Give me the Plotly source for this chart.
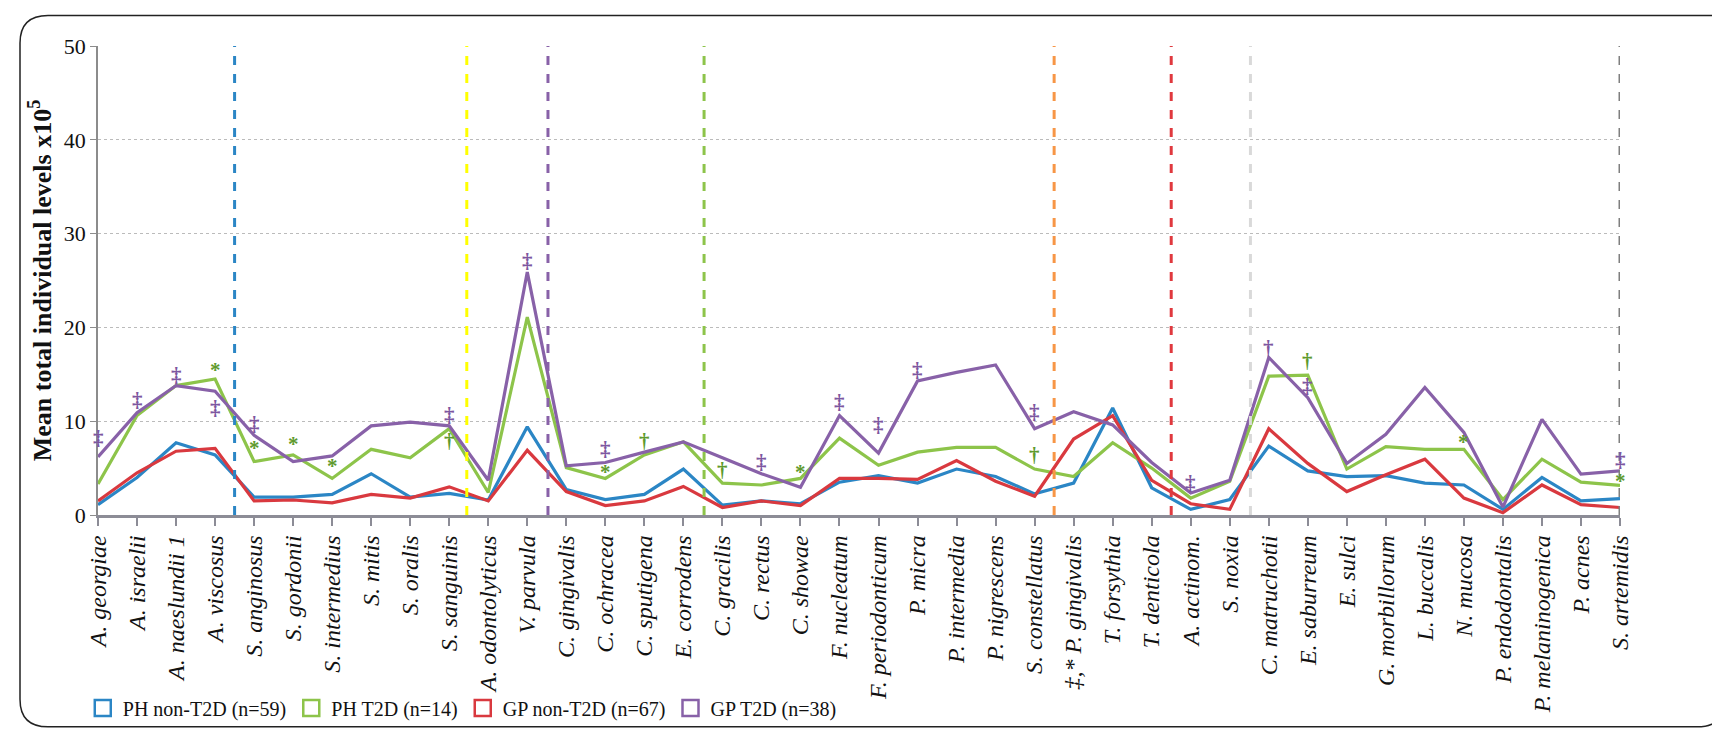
import plotly.graph_objects as go

categories = ["A. georgiae", "A. israelii", "A. naeslundii 1", "A. viscosus", "S. anginosus",
              "S. gordonii", "S. intermedius", "S. mitis", "S. oralis", "S. sanguinis",
              "A. odontolyticus", "V. parvula", "C. gingivalis", "C. ochracea", "C. sputigena",
              "E. corrodens", "C. gracilis", "C. rectus", "C. showae", "F. nucleatum",
              "F. periodonticum", "P. micra", "P. intermedia", "P. nigrescens", "S. constellatus",
              "‡,* P. gingivalis", "T. forsythia", "T. denticola", "A. actinom.", "S. noxia",
              "C. matruchotii", "E. saburreum", "E. sulci", "G. morbillorum", "L. buccalis",
              "N. mucosa", "P. endodontalis", "P. melaninogenica", "P. acnes", "S. artemidis"]

ph_non_t2d = [1.1, 4.0, 7.7, 6.4, 1.9, 1.9, 2.2, 4.4, 1.9, 2.3,
              1.6, 9.4, 2.7, 1.65, 2.2, 4.9, 1.05, 1.5, 1.2, 3.5,
              4.2, 3.4, 4.9, 4.1, 2.25, 3.4, 11.4, 2.9, 0.6, 1.65,
              7.35, 4.7, 4.1, 4.2, 3.4, 3.2, 0.6, 4.0, 1.5, 1.75]
ph_t2d = [3.3, 10.6, 13.8, 14.5, 5.7, 6.4, 3.9, 7.0, 6.1, 9.2,
          2.4, 21.1, 5.05, 3.9, 6.4, 7.8, 3.4, 3.2, 3.9, 8.2,
          5.3, 6.7, 7.2, 7.2, 4.9, 4.1, 7.7, 5.0, 1.8, 3.6,
          14.8, 14.9, 4.9, 7.3, 7.0, 7.0, 1.65, 5.95, 3.5, 3.15]
gp_non_t2d = [1.5, 4.5, 6.8, 7.1, 1.5, 1.6, 1.3, 2.2, 1.8, 3.0,
              1.5, 6.9, 2.5, 1.0, 1.5, 3.05, 0.8, 1.5, 1.0, 3.9,
              3.9, 3.8, 5.8, 3.6, 2.0, 8.1, 10.6, 3.7, 1.2, 0.6,
              9.2, 5.5, 2.5, 4.3, 5.95, 1.8, 0.25, 3.2, 1.1, 0.8]
gp_t2d = [6.2, 10.9, 13.8, 13.2, 8.5, 5.7, 6.3, 9.5, 9.9, 9.5,
          3.7, 25.9, 5.25, 5.6, 6.7, 7.8, 6.1, 4.4, 2.95, 10.6,
          6.6, 14.3, 15.2, 16.0, 9.2, 11.0, 9.6, 5.6, 2.35, 3.7,
          16.8, 12.5, 5.5, 8.6, 13.6, 8.8, 0.85, 10.2, 4.35, 4.7]

series_names = ["PH non-T2D (n=59)", "PH T2D (n=14)", "GP non-T2D (n=67)", "GP T2D (n=38)"]
series_values = [ph_non_t2d, ph_t2d, gp_non_t2d, gp_t2d]
series_colors = ["#2B86C5", "#8DC44A", "#D9393F", "#8861A8"]

# significance marks: category index, y value, symbol, group (1 = PH T2D, 3 = GP T2D)
sig_cat = [0, 1, 2, 3, 3, 4, 4, 5, 6, 9, 9, 11, 13, 13, 14, 16, 17, 18, 19, 20,
           21, 24, 24, 28, 30, 31, 31, 35, 39, 39]
sig_y = [8.2, 12.3, 14.9, 15.5, 11.4, 9.7, 7.1, 7.6, 5.2, 10.7, 7.9, 27.1, 7.0, 4.6, 7.9,
         4.8, 5.7, 4.6, 12.0, 9.6, 15.5, 11.0, 6.4, 3.4, 17.8, 16.4, 13.7, 7.8, 5.9, 3.6]
sig_txt = ["‡", "‡", "‡", "*", "‡", "‡", "*", "*", "*", "‡", "†", "‡", "‡", "*", "†",
           "†", "‡", "*", "‡", "‡", "‡", "‡", "†", "‡", "†", "†", "‡", "*", "‡", "*"]
sig_grp = [3, 3, 3, 1, 3, 3, 1, 1, 1, 3, 1, 3, 3, 1, 1, 1, 3, 1, 3, 3,
           3, 3, 1, 3, 3, 1, 3, 1, 3, 1]
sig_colors = {1: "#5E9A2E", 3: "#7D56A0"}

divider_pos = [3.5, 9.45, 11.53, 15.53, 24.5, 27.5, 29.53, 39.0]
divider_colors = ["#2B86C5", "#FFFF00", "#8861A8", "#8DC44A", "#F79646", "#E0393E", "#D9D9D9", "#7F7F7F"]

SERIF = "Liberation Serif, DejaVu Serif, serif"
W, H = 1720, 732
L, R, T, B = 90, 108, 38, 218
PW, PH = W - L - R, H - T - B

fig = go.Figure()
for name, vals, col in zip(series_names, series_values, series_colors):
    fig.add_trace(go.Scatter(x=categories, y=vals, mode="lines", name=name,
                             line=dict(color=col, width=3.2), showlegend=False))
# legend entries as open squares
for name, col in zip(series_names, series_colors):
    fig.add_trace(go.Scatter(x=[None], y=[None], mode="markers", name=name,
                             marker=dict(symbol="square-open", size=16, color=col,
                                         line=dict(width=2.5, color=col))))

shapes = []
for xp, col in zip(divider_pos, divider_colors):
    shapes.append(dict(type="line", xref="x", yref="y", x0=xp, x1=xp, y0=0, y1=50,
                       line=dict(color=col, width=3, dash="dash"), layer="above"))

# rounded frame around whole figure (in paper coordinates)
def px(xpix):
    return (xpix - L) / PW
def py(ypix):
    return (H - B - ypix) / PH
x0, x1, y0, y1, r = 12, 1717, 7, 729, 28
path = (f"M {px(x0 + r)},{py(y0)} L {px(x1)},{py(y0)} L {px(x1)},{py(y1 - r)} "
        f"Q {px(x1)},{py(y1)} {px(x1 - r)},{py(y1)} L {px(x0 + r)},{py(y1)} "
        f"Q {px(x0)},{py(y1)} {px(x0)},{py(y1 - r)} L {px(x0)},{py(y0 + r)} "
        f"Q {px(x0)},{py(y0)} {px(x0 + r)},{py(y0)} Z")
shapes.append(dict(type="path", xref="paper", yref="paper", path=path,
                   line=dict(color="#222222", width=1.5)))

annotations = []
for c, yv, t, g in zip(sig_cat, sig_y, sig_txt, sig_grp):
    annotations.append(dict(x=c, y=yv, xref="x", yref="y", text="<b>" + t + "</b>", showarrow=False,
                            font=dict(family=SERIF, size=21, color=sig_colors[g]),
                            xanchor="center", yanchor="middle"))

fig.update_layout(
    width=W, height=H,
    margin=dict(l=L, r=R, t=T, b=B),
    paper_bgcolor="white", plot_bgcolor="white",
    font=dict(family=SERIF, color="#111111"),
    shapes=shapes, annotations=annotations,
    legend=dict(orientation="h", x=-0.01, xanchor="left", y=-(710 - (H - B)) / PH,
                yanchor="middle", font=dict(family=SERIF, size=20, color="#111111"),
                itemwidth=30, tracegroupgap=0, bgcolor="rgba(0,0,0,0)"),
    xaxis=dict(type="category", range=[0, 39], tickangle=-90,
               tickfont=dict(family=SERIF, size=24, style="italic", color="#111111"),
               showline=True, linecolor="#8C8C96", linewidth=2.5,
               ticks="outside", ticklen=8, tickcolor="#8C8C96", tickwidth=1.5,
               showgrid=False, zeroline=False, fixedrange=True),
    yaxis=dict(range=[0, 50], dtick=10, tickfont=dict(family=SERIF, size=22, color="#111111"),
               showline=True, linecolor="#8C8C8C", linewidth=1.5,
               ticks="outside", ticklen=6, tickcolor="#8C8C8C",
               showgrid=True, gridcolor="#BBBBBB", griddash="dot", gridwidth=1,
               zeroline=False,
               title=dict(text="<b>Mean total individual levels x10<sup>5</sup></b>",
                          font=dict(family=SERIF, size=26, color="#111111"), standoff=5)),
)

fig.write_html("out.html")
